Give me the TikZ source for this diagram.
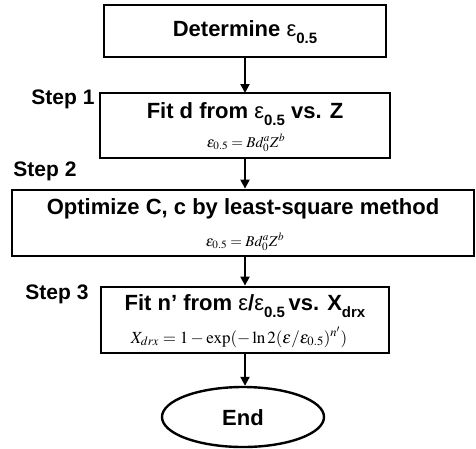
\documentclass[tikz,border=0pt]{standalone}
\usepackage{mathptmx}
\usepackage{fontspec}
\setmainfont{Liberation Sans}
\usetikzlibrary{arrows.meta,shapes.geometric}
\begin{document}
\begin{tikzpicture}[x=1pt,y=-1pt,
  box/.style={draw=black,line width=2.8pt,rectangle,inner sep=0pt},
  title/.style={font=\fontsize{22}{24}\selectfont\bfseries,inner sep=0pt},
  steplab/.style={font=\fontsize{21}{23}\selectfont\bfseries,inner sep=0pt},
  frm/.style={font=\fontsize{15}{17}\selectfont,inner sep=0pt},
  arr/.style={line width=2pt,-{Triangle[length=9pt,width=9pt]}}]
\useasboundingbox (0,0) rectangle (476,448);
\newcommand{\eps}{{\mdseries ε}}
\newcommand{\sbx}[1]{\raisebox{-0.3em}{\fontsize{15}{15}\selectfont\bfseries #1}}
\node[box,minimum width=282pt,minimum height=52pt] (b1) at (245,31) {};
\node[box,minimum width=290pt,minimum height=65pt] (b2) at (245,125.5) {};
\node[box,minimum width=462pt,minimum height=66pt] (b3) at (243,223) {};
\node[box,minimum width=288pt,minimum height=66pt] (b4) at (245,320) {};
\node[draw=black,line width=2.4pt,ellipse,minimum width=162pt,minimum height=60pt,inner sep=0pt] (e) at (243,417) {};
\node[title] (t1) at (245,32) {Determine \eps\sbx{0.5}};
\node[title] (t2) at (245,114) {Fit d from \eps\sbx{0.5} vs. Z};
\node[frm] (f2) at (246,143) {$\varepsilon_{0.5}=Bd_0^aZ^b$};
\node[title] (t3) at (243,209) {Optimize C, c by least-square method};
\node[frm] (f3) at (245,242) {$\varepsilon_{0.5}=Bd_0^aZ^b$};
\node[title] (t4) at (245,306) {Fit n\textquoteright{} from \eps/\eps\sbx{0.5}\,vs. X\sbx{drx}};
\node[font=\fontsize{17}{19}\selectfont,inner sep=0pt] (f4) at (239,337) {$X_{drx}=1-\exp(-\ln 2(\varepsilon/\varepsilon_{0.5})^{n'})$};
\node[title] (t5) at (243,418) {End};
\node[steplab] (s1) at (63,99) {Step 1};
\node[steplab] (s2) at (45,171) {Step 2};
\node[steplab] (s3) at (57,294) {Step 3};
\draw[arr] (b1.south -| 245,0) -- (245,93);
\draw[arr] (b2.south) -- (b2.south |- b3.north);
\draw[arr] (b2.south |- b3.south) -- (b2.south |- b4.north);
\draw[arr] (b4.south) -- (b4.south |- e.north);
\end{tikzpicture}
\end{document}
